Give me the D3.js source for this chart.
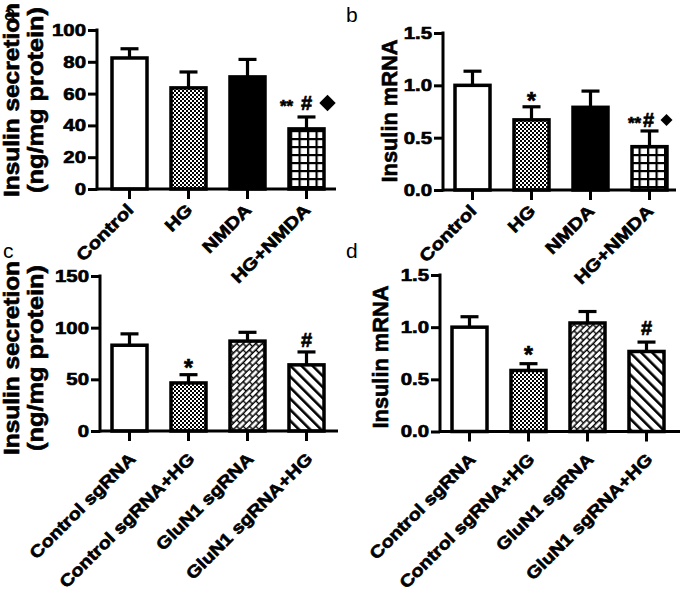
<!DOCTYPE html>
<html><head><meta charset="utf-8">
<script src="https://cdn.jsdelivr.net/npm/d3@7"></script>
<style>body{margin:0;background:#fff} svg{display:block} text.b{stroke:#000;stroke-width:0.65px}</style>
</head><body>
<svg id="chart" width="685" height="597"></svg>
<script>
// ---------- data ----------
const groupsAB = ["Control", "HG", "NMDA", "HG+NMDA"];
const groupsCD = ["Control sgRNA", "Control sgRNA+HG", "GluN1 sgRNA", "GluN1 sgRNA+HG"];
const secretionAB = [82.4, 63.6, 70.5, 37.8];
const secretionABErr = [5.8, 10.0, 11.0, 7.5];
const mrnaAB = [1.0, 0.67, 0.79, 0.414];
const mrnaABErr = [0.135, 0.125, 0.155, 0.15];
const secretionCD = [83, 46.5, 87, 64];
const secretionCDErr = [11, 8, 8.5, 12.5];
const mrnaCD = [1.0, 0.585, 1.04, 0.767];
const mrnaCDErr = [0.10, 0.065, 0.11, 0.09];
const ticksSecA = [0, 20, 40, 60, 80, 100];
const ticksSecC = [0, 50, 100, 150];
const ticksMrna = [0, 0.5, 1.0, 1.5];
// significance marks: [group index, symbols]  ("D" = filled diamond)
const marksA = [[3, ["**", "#", "D"]]];
const marksB = [[1, ["*"]], [3, ["**", "#", "D"]]];
const marksC = [[1, ["*"]], [3, ["#"]]];
const marksD = [[1, ["*"]], [3, ["#"]]];

const svg = d3.select("#chart");
const FONT = "'Liberation Sans', Arial, sans-serif";

// ---------- patterns ----------
const defs = svg.append("defs");
const pChk = defs.append("pattern").attr("id", "chk").attr("patternUnits", "userSpaceOnUse").attr("width", 4).attr("height", 4);
pChk.append("rect").attr("width", 4).attr("height", 4).attr("fill", "#fff");
pChk.append("rect").attr("width", 2).attr("height", 2).attr("fill", "#000");
pChk.append("rect").attr("x", 2).attr("y", 2).attr("width", 2).attr("height", 2).attr("fill", "#000");

const pGrid = defs.append("pattern").attr("id", "grid").attr("patternUnits", "userSpaceOnUse").attr("width", 8.5).attr("height", 8).attr("x", 1).attr("y", 2);
pGrid.append("rect").attr("width", 8.5).attr("height", 8).attr("fill", "#fff");
pGrid.append("rect").attr("width", 2.2).attr("height", 8).attr("fill", "#000");
pGrid.append("rect").attr("width", 8.5).attr("height", 2.2).attr("fill", "#000");

const pBrick = defs.append("pattern").attr("id", "brick").attr("patternUnits", "userSpaceOnUse").attr("width", 9).attr("height", 9).attr("patternTransform", "rotate(-45)");
pBrick.append("rect").attr("width", 9).attr("height", 9).attr("fill", "#fff");
pBrick.append("path").attr("d", "M0,0.7H9M0,5.2H9M1,0.7V5.2M5.5,5.2V9.7").attr("stroke", "#000").attr("stroke-width", 1.4).attr("fill", "none");

const pDiag = defs.append("pattern").attr("id", "diag").attr("patternUnits", "userSpaceOnUse").attr("width", 7.8).attr("height", 7.8).attr("patternTransform", "rotate(-45)");
pDiag.append("rect").attr("width", 7.8).attr("height", 7.8).attr("fill", "#fff");
pDiag.append("rect").attr("x", 0).attr("width", 2.6).attr("height", 7.8).attr("fill", "#000");

function stretch(sel, k) {
  sel.each(function () {
    const L = this.getComputedTextLength();
    d3.select(this).attr("textLength", L * k).attr("lengthAdjust", "spacingAndGlyphs");
  });
}
function fitLength(sel, len) {
  sel.attr("textLength", len).attr("lengthAdjust", "spacingAndGlyphs");
}

function panel(cfg) {
  const g = svg.append("g");
  const y = d3.scaleLinear().domain([0, cfg.max]).range([cfg.yBottom, cfg.yTop]);
  const x = d3.scaleBand().domain(cfg.cats)
    .range([cfg.bandStart, cfg.bandStart + 236])
    .paddingInner(24 / 59).paddingOuter(12 / 59);
  const data = cfg.cats.map((c, i) => ({ c, v: cfg.vals[i], e: cfg.errs[i], fill: cfg.fills[i] }));

  const eb = g.selectAll("g.eb").data(data).join("g").attr("class", "eb");
  eb.append("line")
    .attr("x1", d => x(d.c) + x.bandwidth() / 2).attr("x2", d => x(d.c) + x.bandwidth() / 2)
    .attr("y1", d => y(d.v)).attr("y2", d => y(d.v + d.e))
    .attr("stroke", "#000").attr("stroke-width", 3.2);
  eb.append("line")
    .attr("x1", d => x(d.c) + x.bandwidth() / 2 - 9).attr("x2", d => x(d.c) + x.bandwidth() / 2 + 9)
    .attr("y1", d => y(d.v + d.e)).attr("y2", d => y(d.v + d.e))
    .attr("stroke", "#000").attr("stroke-width", 3.2);

  g.selectAll("rect.bar").data(data).join("rect").attr("class", "bar")
    .attr("x", d => x(d.c)).attr("width", x.bandwidth())
    .attr("y", d => y(d.v)).attr("height", d => y(0) - y(d.v))
    .attr("fill", d => d.fill).attr("stroke", "#000").attr("stroke-width", 3.5);

  // y axis
  const ya = g.append("g").attr("transform", `translate(${cfg.axisX},0)`)
    .call(d3.axisLeft(y).tickValues(cfg.ticks).tickSize(9).tickSizeOuter(0).tickPadding(2).tickFormat(cfg.fmt));
  ya.select(".domain").attr("stroke-width", 3).attr("d", `M0,${y(cfg.max) - 1.5}V${y(0) + 1.5}`);
  ya.selectAll(".tick line").attr("stroke-width", 3);
  ya.selectAll(".tick text").attr("class", "b").attr("font-family", FONT).attr("font-weight", "bold").attr("font-size", 17).attr("fill", "#000");
  stretch(ya.selectAll(".tick text"), 1.2);

  // x axis
  const xa = g.append("g").attr("transform", `translate(0,${cfg.yBottom})`)
    .call(d3.axisBottom(x).tickSize(10).tickSizeOuter(0));
  xa.select(".domain").attr("stroke-width", 3).attr("d", `M${cfg.axisX},0H${cfg.axisEnd}`);
  xa.selectAll(".tick line").attr("stroke-width", 3);
  xa.selectAll(".tick text").attr("class", "b")
    .attr("font-family", FONT).attr("font-weight", "bold").attr("font-size", 17).attr("fill", "#000")
    .attr("text-anchor", "end").attr("x", 0).attr("y", 0).attr("dy", 0)
    .attr("transform", `translate(${cfg.lblDx},${cfg.lblDy}) rotate(-45)`);
  stretch(xa.selectAll(".tick text"), cfg.lblK);

  // y titles
  cfg.titles.forEach(t => {
    const tx = g.append("text").attr("class", "b")
      .attr("transform", `translate(${t.x},${t.cy}) rotate(-90)`)
      .attr("text-anchor", "middle").attr("font-family", FONT).attr("font-weight", "bold")
      .attr("font-size", 22).attr("fill", "#000").text(t.text);
    fitLength(tx, t.len);
  });

  // panel letter
  g.append("text").attr("x", cfg.letter[0]).attr("y", cfg.letter[1])
    .attr("font-family", FONT).attr("font-size", 21).attr("fill", "#000").text(cfg.letter[2]);

  // significance marks
  cfg.marks.forEach(([i, syms]) => {
    const d = data[i];
    const cx = x(d.c) + x.bandwidth() / 2;
    const cyTop = y(d.v + d.e) - cfg.markGap;
    const offs = syms.length === 1 ? [0] : cfg.multiOffs;
    syms.forEach((s, j) => {
      const px = cx + offs[j];
      if (s === "D") {
        g.append("path").attr("d", d3.symbol(d3.symbolSquare, cfg.diamondSize)())
          .attr("transform", `translate(${px},${cyTop}) rotate(45)`).attr("fill", "#000");
      } else if (s === "#") {
        g.append("text").attr("class", "b").attr("x", px).attr("y", cyTop + 0.35 * 20).attr("text-anchor", "middle")
          .attr("font-family", FONT).attr("font-weight", "bold").attr("font-size", 20).text("#");
      } else {
        const fs = s === "**" ? 17 : 23;
        g.append("text").attr("class", "b").attr("x", px).attr("y", cyTop + 0.56 * fs).attr("text-anchor", "middle")
          .attr("font-family", FONT).attr("font-weight", "bold").attr("font-size", fs).text(s);
      }
    });
  });
}

const fillsAB = ["#fff", "url(#chk)", "#000", "url(#grid)"];
const fillsCD = ["#fff", "url(#chk)", "url(#brick)", "url(#diag)"];

panel({ cats: groupsAB, vals: secretionAB, errs: secretionABErr, fills: fillsAB, max: 100, ticks: ticksSecA,
  fmt: d3.format("d"), yBottom: 189, yTop: 30, axisX: 97, axisEnd: 336, bandStart: 100,
  lblDx: 5, lblDy: 22, lblK: 1.2,
  titles: [{ text: "Insulin secretion", x: 19, cy: 100, len: 194 }, { text: "(ng/mg protein)", x: 43, cy: 100, len: 186 }],
  letter: [4, 20, "a"], marks: marksA, markGap: 14, multiOffs: [-20, 0, 21], diamondSize: 135 });

panel({ cats: groupsAB, vals: mrnaAB, errs: mrnaABErr, fills: fillsAB, max: 1.5, ticks: ticksMrna,
  fmt: d3.format(".1f"), yBottom: 190, yTop: 33, axisX: 443, axisEnd: 676, bandStart: 443,
  lblDx: 5, lblDy: 22, lblK: 1.2,
  titles: [{ text: "Insulin mRNA", x: 397, cy: 111, len: 143 }],
  letter: [346, 22, "b"], marks: marksB, markGap: 11, multiOffs: [-15, -1, 17], diamondSize: 72 });

panel({ cats: groupsCD, vals: secretionCD, errs: secretionCDErr, fills: fillsCD, max: 150, ticks: ticksSecC,
  fmt: d3.format("d"), yBottom: 431, yTop: 276, axisX: 100, axisEnd: 338, bandStart: 100,
  lblDx: 7, lblDy: 29, lblK: 1.16,
  titles: [{ text: "Insulin secretion", x: 19, cy: 358, len: 194 }, { text: "(ng/mg protein)", x: 43, cy: 358, len: 186 }],
  letter: [3, 258, "c"], marks: marksC, markGap: 12, multiOffs: [0], diamondSize: 72 });

panel({ cats: groupsCD, vals: mrnaCD, errs: mrnaCDErr, fills: fillsCD, max: 1.5, ticks: ticksMrna,
  fmt: d3.format(".1f"), yBottom: 431.5, yTop: 275, axisX: 440, axisEnd: 680, bandStart: 440,
  lblDx: 7, lblDy: 29, lblK: 1.16,
  titles: [{ text: "Insulin mRNA", x: 388, cy: 357, len: 143 }],
  letter: [346, 258, "d"], marks: marksD, markGap: 14, multiOffs: [0], diamondSize: 72 });
</script>
</body></html>
